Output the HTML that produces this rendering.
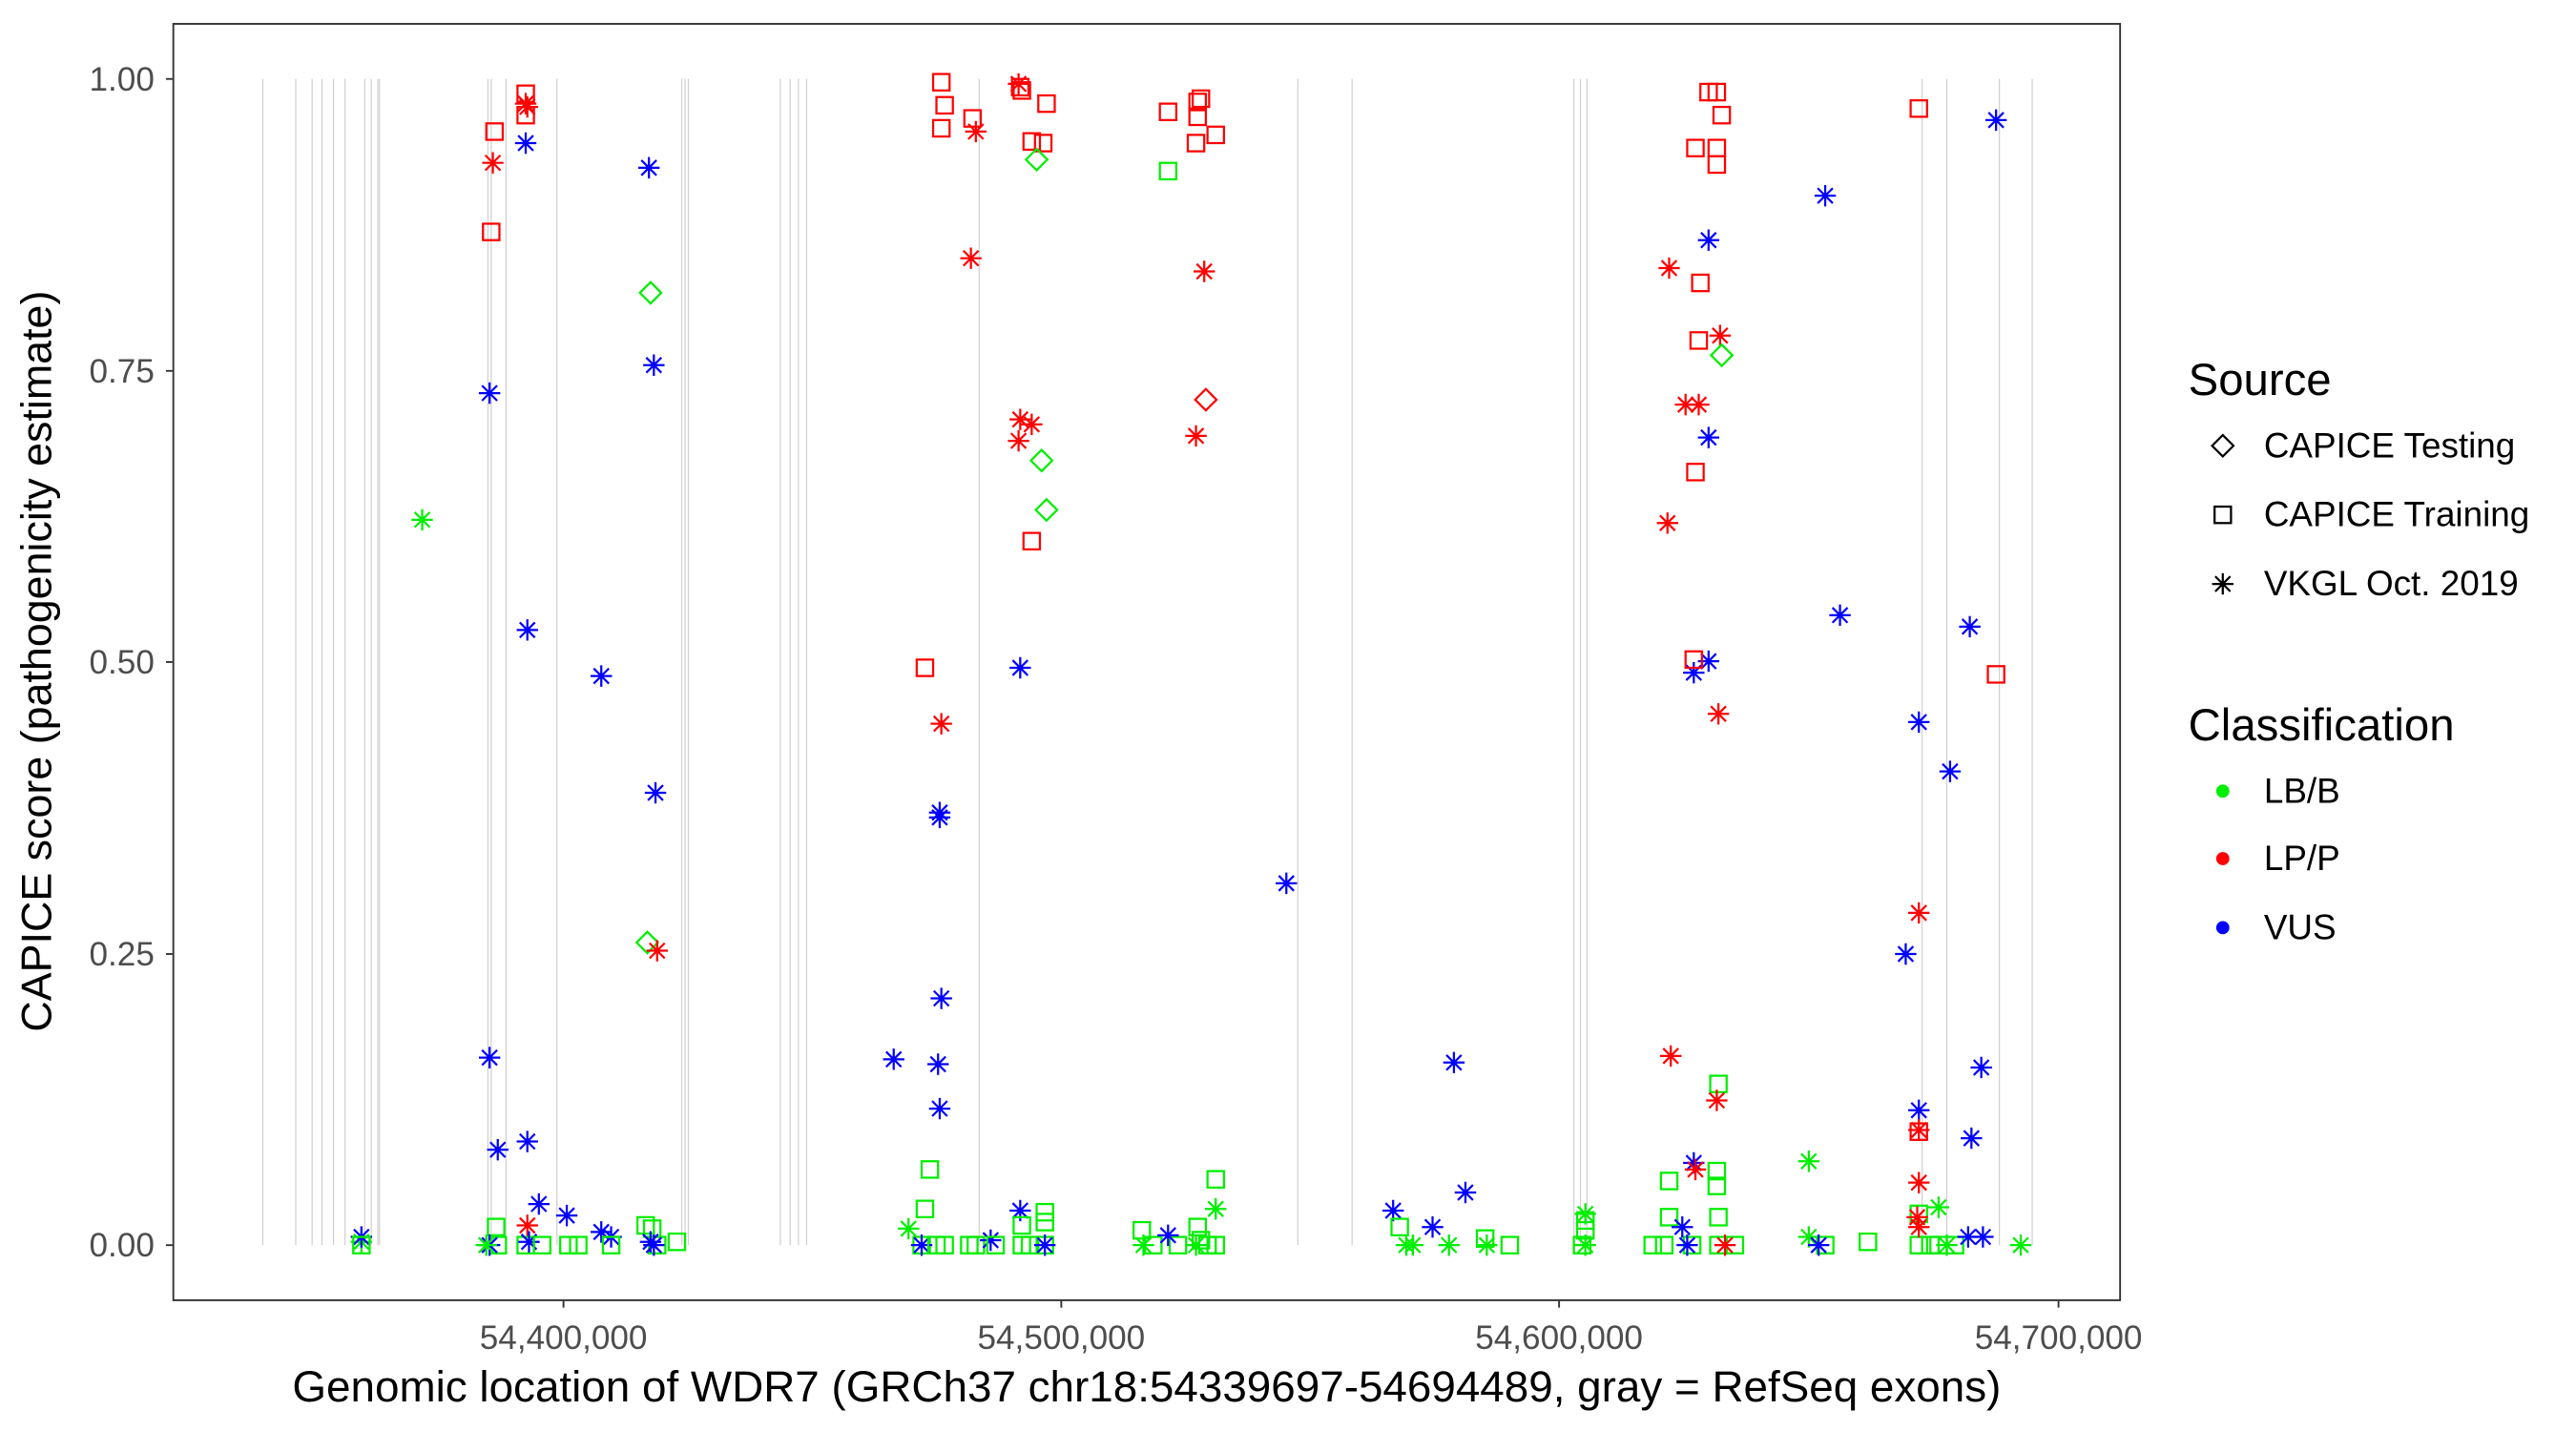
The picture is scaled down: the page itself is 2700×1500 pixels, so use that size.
<!DOCTYPE html>
<html><head><meta charset="utf-8"><style>
html,body{margin:0;padding:0;background:#fff;}
svg{display:block;}
text{font-family:"Liberation Sans",Arial,sans-serif;}
</style></head><body>
<svg id="s" width="2700" height="1500" viewBox="0 0 1568 870" preserveAspectRatio="none" xmlns="http://www.w3.org/2000/svg">
<rect x="0" y="0" width="1568" height="870" fill="#fff"/>
<g id="ex"></g>
<g id="pts"></g>
<rect x="105.5" y="14.5" width="1185" height="776" fill="none" stroke="#333" stroke-width="1.1"/>
<g stroke="#333" stroke-width="1.1">
<line x1="101" y1="48" x2="105" y2="48"/><line x1="101" y1="225.5" x2="105" y2="225.5"/><line x1="101" y1="402.5" x2="105" y2="402.5"/><line x1="101" y1="580" x2="105" y2="580"/><line x1="101" y1="757" x2="105" y2="757"/>
<line x1="343" y1="791" x2="343" y2="795"/><line x1="646" y1="791" x2="646" y2="795"/><line x1="949" y1="791" x2="949" y2="795"/><line x1="1253" y1="791" x2="1253" y2="795"/>
</g>
<g font-size="20.4" fill="#4d4d4d" text-anchor="end">
<text x="94" y="55">1.00</text><text x="94" y="232.5">0.75</text><text x="94" y="409.5">0.50</text><text x="94" y="587">0.25</text><text x="94" y="764">0.00</text>
</g>
<g font-size="20.4" fill="#4d4d4d" text-anchor="middle">
<text x="343" y="820">54,400,000</text><text x="646" y="820">54,500,000</text><text x="949" y="820">54,600,000</text><text x="1253" y="820">54,700,000</text>
</g>
<text x="698" y="852" font-size="26.6" text-anchor="middle" fill="#000">Genomic location of WDR7 (GRCh37 chr18:54339697-54694489, gray = RefSeq exons)</text>
<text transform="translate(31,402) rotate(-90)" font-size="26" text-anchor="middle" fill="#000">CAPICE score (pathogenicity estimate)</text>
<text x="1332" y="240" font-size="27.5" fill="#000">Source</text>
<text x="1378" y="278" font-size="21.4">CAPICE Testing</text>
<text x="1378" y="320" font-size="21.4">CAPICE Training</text>
<text x="1378" y="362" font-size="21.4">VKGL Oct. 2019</text>
<text x="1332" y="450" font-size="27.5" fill="#000">Classification</text>
<text x="1378" y="488" font-size="21.4">LB/B</text>
<text x="1378" y="529" font-size="21.4">LP/P</text>
<text x="1378" y="571" font-size="21.4">VUS</text>
<g id="leg"></g>
</svg>
<script>
var NS="http://www.w3.org/2000/svg";
function el(p,t,a){var e=document.createElementNS(NS,t);for(var k in a)e.setAttribute(k,a[k]);p.appendChild(e);return e;}
var ex=document.getElementById('ex');
[160,180,190,196,203,210,222,226,230,231,297,299,308,339,415,417,419,475,481,486,491,596,790,823,958,962,966,1170,1185,1217,1237].forEach(function(x){
el(ex,'line',{x1:x,y1:48,x2:x,y2:757,stroke:'#cfcfcf','stroke-width':0.7});});
var C={g:'#00ee00',r:'#ff0000',b:'#0000ff',k:'#000'};
function mark(g,x,y,sh,c){
 var col=C[c];
 if(sh=='s'){el(g,'rect',{x:x-5,y:y-5,width:10,height:10,fill:'none',stroke:col,'stroke-width':1.3});}
 else if(sh=='d'){el(g,'path',{d:'M'+x+' '+(y-6.5)+'L'+(x+6.5)+' '+y+'L'+x+' '+(y+6.5)+'L'+(x-6.5)+' '+y+'Z',fill:'none',stroke:col,'stroke-width':1.3});}
 else {var r=6.5,d=4.6;el(g,'path',{d:'M'+(x-r)+' '+y+'H'+(x+r)+'M'+x+' '+(y-r)+'V'+(y+r)+'M'+(x-d)+' '+(y-d)+'L'+(x+d)+' '+(y+d)+'M'+(x-d)+' '+(y+d)+'L'+(x+d)+' '+(y-d),fill:'none',stroke:col,'stroke-width':1.3});}
}
var P=[
[220,755,'a','g'],[220,752,'a','b'],[220,757,'s','g'],[257,316,'a','g'],
[301,80,'s','r'],[300,99,'a','r'],[299,141,'s','r'],[298,239,'a','b'],[298,643,'a','b'],[303,699,'a','b'],[302,746,'s','g'],[303,757,'s','g'],[298,757,'a','b'],[296,757,'a','g'],
[320,57,'s','r'],[320,70,'s','r'],[320,63,'a','r'],[321,65,'a','r'],[320,87,'a','b'],[321,383,'a','b'],[321,694,'a','b'],[321,745,'a','r'],[320,757,'s','g'],[322,755,'a','b'],[330,757,'s','g'],[328,732,'a','b'],[345,739,'a','b'],[346,757,'s','g'],[352,757,'s','g'],[366,749,'a','b'],[372,752,'a','b'],[372,757,'s','g'],[366,411,'a','b'],
[395,102,'a','b'],[396,178,'d','g'],[398,222,'a','b'],[399,482,'a','b'],[394,573,'d','g'],[400,578,'a','r'],[393,745,'s','g'],[397,747,'s','g'],[400,757,'s','g'],[412,755,'s','g'],[396,755,'a','b'],[398,757,'a','b'],
[544,644,'a','b'],[553,747,'a','g'],[563,735,'s','g'],[566,711,'s','g'],[561,757,'s','g'],[561,757,'a','b'],[572,497,'a','b'],[572,494,'a','b'],[573,607,'a','b'],[571,647,'a','b'],[572,674,'a','b'],[573,440,'a','r'],[563,406,'s','r'],[573,50,'s','r'],[575,64,'s','r'],[573,78,'s','r'],[575,757,'s','g'],[570,757,'s','g'],
[591,157,'a','r'],[592,72,'s','r'],[594,80,'a','r'],[594,757,'s','g'],[590,757,'s','g'],[603,754,'a','b'],[606,757,'s','g'],
[620,51,'a','r'],[621,53,'s','r'],[622,55,'s','r'],[621,255,'a','r'],[620,268,'a','r'],[628,258,'a','r'],[628,86,'s','r'],[637,63,'s','r'],[635,87,'s','r'],[631,97,'d','g'],[634,280,'d','g'],[637,310,'d','g'],[628,329,'s','r'],[621,406,'a','b'],[621,736,'a','b'],[622,745,'s','g'],[636,737,'s','g'],[636,743,'s','g'],[636,757,'s','g'],[622,757,'s','g'],[627,757,'s','g'],[636,757,'a','b'],
[711,68,'s','r'],[729,62,'s','r'],[731,60,'s','r'],[729,71,'s','r'],[728,87,'s','r'],[740,82,'s','r'],[733,165,'a','r'],[711,104,'s','g'],[734,243,'d','r'],[728,265,'a','r'],[695,748,'s','g'],[702,757,'s','g'],[696,757,'a','g'],[717,757,'s','g'],[729,746,'s','g'],[731,754,'s','g'],[740,735,'a','g'],[740,717,'s','g'],[740,757,'s','g'],[728,757,'a','g'],[735,757,'s','g'],[711,751,'a','b'],
[783,537,'a','b'],
[848,736,'a','b'],[852,746,'s','g'],[856,757,'a','g'],[860,757,'a','g'],[872,746,'a','b'],[882,757,'a','g'],[885,646,'a','b'],[892,725,'a','b'],[904,753,'s','g'],[905,757,'a','g'],[919,757,'s','g'],
[965,738,'a','g'],[965,742,'s','g'],[965,748,'s','g'],[965,757,'a','g'],[963,757,'s','g'],
[1006,757,'s','g'],[1013,757,'s','g'],[1016,718,'s','g'],[1016,740,'s','g'],[1030,757,'s','g'],[1056,757,'s','g'],[1046,659,'s','g'],[1045,712,'s','g'],[1045,721,'s','g'],[1046,740,'s','g'],[1046,757,'s','g'],
[1016,163,'a','r'],[1017,642,'a','r'],[1015,318,'a','r'],[1026,246,'a','r'],[1034,246,'a','r'],[1027,757,'a','b'],[1024,746,'a','b'],[1031,707,'a','b'],[1032,711,'a','r'],[1031,409,'a','b'],[1040,402,'a','b'],[1031,401,'s','r'],[1032,287,'s','r'],[1034,207,'s','r'],[1035,172,'s','r'],[1040,146,'a','b'],[1040,266,'a','b'],[1032,90,'s','r'],[1040,56,'s','r'],[1045,56,'s','r'],[1045,90,'s','r'],[1045,100,'s','r'],[1048,70,'s','r'],[1047,204,'a','r'],[1048,216,'d','g'],[1046,434,'a','r'],[1045,669,'a','r'],[1050,757,'a','r'],
[1101,706,'a','g'],[1101,752,'a','g'],[1111,757,'s','g'],[1137,755,'s','g'],[1107,757,'a','b'],[1111,119,'a','b'],[1120,374,'a','b'],
[1160,580,'a','b'],[1168,66,'s','r'],[1168,439,'a','b'],[1168,555,'a','r'],[1168,675,'a','b'],[1168,687,'a','r'],[1168,688,'s','r'],[1168,738,'s','g'],[1168,757,'s','g'],[1180,734,'a','g'],[1175,757,'s','g'],[1185,757,'a','g'],[1190,757,'s','g'],[1180,757,'s','g'],[1168,719,'a','r'],[1167,740,'a','r'],[1168,746,'a','r'],
[1187,469,'a','b'],[1199,381,'a','b'],[1200,692,'a','b'],[1206,649,'a','b'],[1198,752,'a','b'],[1207,752,'a','b'],[1215,410,'s','r'],[1215,73,'a','b'],[1230,757,'a','g']
];
var pg=document.getElementById('pts');
P.forEach(function(p){mark(pg,p[0],p[1],p[2],p[3]);});
var lg=document.getElementById('leg');
mark(lg,1353,271,'d','k');mark(lg,1353,313,'s','k');mark(lg,1353,355,'a','k');
el(lg,'circle',{cx:1353,cy:481,r:4,fill:'#00ee00'});
el(lg,'circle',{cx:1353,cy:522,r:4,fill:'#ff0000'});
el(lg,'circle',{cx:1353,cy:564,r:4,fill:'#0000ff'});
</script>
</body></html>
